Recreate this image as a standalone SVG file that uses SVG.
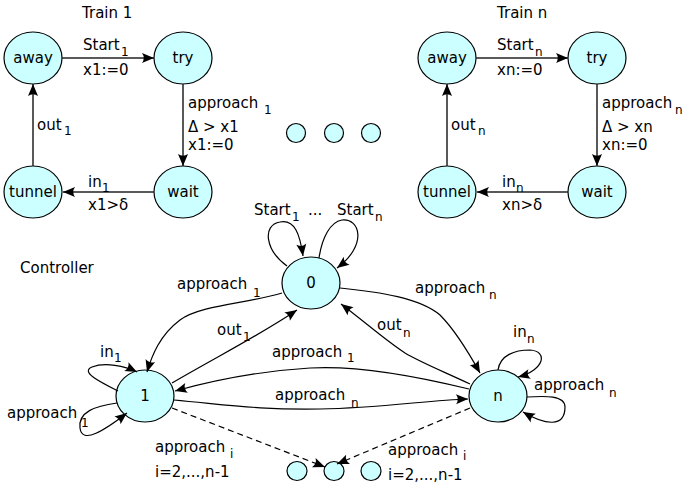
<svg xmlns="http://www.w3.org/2000/svg" width="683" height="488" viewBox="0 0 683 488">
<style>
text{font-family:"DejaVu Sans","Liberation Sans",sans-serif;font-size:15px;fill:#000}
.sub{font-size:12px}
.c{text-anchor:middle}
.node{fill:#ccffff;stroke:#000;stroke-width:1.2}
.e{fill:none;stroke:#222;stroke-width:1.5;marker-end:url(#ah)}
.k{fill:none;stroke:#000;stroke-width:1.2;marker-end:url(#ah)}
.d{stroke-dasharray:6,4}
</style>
<defs>
<marker id="ah" markerWidth="14" markerHeight="12" refX="12" refY="5" orient="auto" markerUnits="userSpaceOnUse" viewBox="0 0 14 12" overflow="visible">
<path d="M12,5 L0,0 Q3.5,5 0,10 Z" fill="#000"/>
</marker>
</defs>

<!-- Train 1 -->
<text x="82" y="18">Train 1</text>
<g id="t1-away"><ellipse class="node" cx="33" cy="58" rx="29" ry="26"/><text class="c" x="33" y="63">away</text></g>
<g id="t1-try"><ellipse class="node" cx="183" cy="58" rx="29" ry="26"/><text class="c" x="183" y="63">try</text></g>
<g id="t1-wait"><ellipse class="node" cx="183" cy="192" rx="29" ry="26"/><text class="c" x="183" y="197">wait</text></g>
<g id="t1-tunnel"><ellipse class="node" cx="33" cy="192" rx="29" ry="26"/><text class="c" x="33" y="197">tunnel</text></g>

<!-- Train n -->
<text x="497" y="18">Train n</text>
<g id="tn-away"><ellipse class="node" cx="447" cy="58" rx="29" ry="26"/><text class="c" x="447" y="63">away</text></g>
<g id="tn-try"><ellipse class="node" cx="597" cy="58" rx="29" ry="26"/><text class="c" x="597" y="63">try</text></g>
<g id="tn-wait"><ellipse class="node" cx="597" cy="192" rx="29" ry="26"/><text class="c" x="597" y="197">wait</text></g>
<g id="tn-tunnel"><ellipse class="node" cx="447" cy="192" rx="29" ry="26"/><text class="c" x="447" y="197">tunnel</text></g>

<!-- dots -->
<g id="dots-top">
<circle class="node" cx="296" cy="133" r="9.5"/>
<circle class="node" cx="334" cy="133" r="9.5"/>
<circle class="node" cx="371" cy="133" r="9.5"/>
</g>

<!-- Controller -->
<text x="20" y="273">Controller</text>
<g id="c0"><ellipse class="node" cx="311" cy="283" rx="29" ry="26"/><text class="c" x="311" y="288">0</text></g>
<g id="c1"><ellipse class="node" cx="145" cy="396" rx="29" ry="26"/><text class="c" x="145" y="401">1</text></g>
<g id="cn"><ellipse class="node" cx="498" cy="396" rx="29" ry="26"/><text class="c" x="498" y="401">n</text></g>
<g id="dots-bottom">
<ellipse class="node" cx="297" cy="471" rx="10" ry="9.5"/>
<ellipse class="node" cx="334" cy="471" rx="10" ry="9.5"/>
<ellipse class="node" cx="371" cy="471" rx="10" ry="9.5"/>
</g>

<g id="connectors">
<!-- train 1 -->
<path class="e" d="M62,58 L154,58"/>
<path class="e" d="M183,84 L183,166"/>
<path class="e" d="M154,192 L63,192"/>
<path class="e" d="M33,166 L33,84"/>
<!-- train n -->
<path class="e" d="M476,58 L568,58"/>
<path class="e" d="M597,84 L597,166"/>
<path class="e" d="M568,192 L477,192"/>
<path class="e" d="M447,166 L447,84"/>
<!-- controller -->
<path class="k" d="M287,266 C265,250 262,225 280,222 C295,219 300,235 303,256"/>
<path class="k" d="M319,258 C322,238 330,222 342,220 C360,218 368,245 337,268"/>
<path class="k" d="M282,293 C250,303 200,305 180,320 C160,335 152,355 147,372"/>
<path class="k" d="M172,383 C220,355 260,335 297,310"/>
<path class="k" d="M469,389 C420,377 360,365 310,368 C260,371 215,380 175,391"/>
<path class="k" d="M174,400 C230,405 260,410 320,409 C380,408 430,400 468,399"/>
<path class="k" d="M340,288 C380,292 420,298 440,315 C455,330 470,355 480,373"/>
<path class="k" d="M470,384 C440,370 420,362 405,353 C385,340 365,322 341,304"/>
<path class="k" d="M498,370 C500,355 515,350 530,350 C548,351 545,370 518,377"/>
<path class="k" d="M527,397 C545,396 565,395 565,407 C565,428 545,425 523,412"/>
<path class="k" d="M118,391 C100,382 80,372 92,367 C105,362 125,366 137,372"/>
<path class="k" d="M117,403 C95,406 78,412 80,428 C82,445 105,430 127,413"/>
<path class="k d" d="M172,408 L325,467"/>
<path class="k d" d="M470,408 L337,464"/>
</g>

<!-- train 1 labels -->
<text x="83" y="50">Start</text><text class="sub" x="121" y="56">1</text>
<text x="83" y="75">x1:=0</text>
<text x="188" y="108">approach</text><text class="sub" x="264" y="114">1</text>
<text x="188" y="132">Δ &gt; x1</text>
<text x="188" y="150">x1:=0</text>
<text x="88" y="187">in</text><text class="sub" x="102" y="192">1</text>
<text x="88" y="210">x1&gt;δ</text>
<text x="37" y="130">out</text><text class="sub" x="64" y="135">1</text>

<!-- train n labels -->
<text x="497" y="50">Start</text><text class="sub" x="535" y="56">n</text>
<text x="497" y="75">xn:=0</text>
<text x="602" y="108">approach</text><text class="sub" x="675" y="114">n</text>
<text x="602" y="132">Δ &gt; xn</text>
<text x="602" y="150">xn:=0</text>
<text x="502" y="187">in</text><text class="sub" x="516" y="192">n</text>
<text x="502" y="210">xn&gt;δ</text>
<text x="451" y="130">out</text><text class="sub" x="478" y="135">n</text>

<!-- controller labels -->
<text x="254" y="215">Start</text><text class="sub" x="292" y="221">1</text>
<text x="308" y="215">...</text>
<text x="337" y="215">Start</text><text class="sub" x="375" y="221">n</text>
<text x="177" y="289">approach</text><text class="sub" x="253" y="297">1</text>
<text x="217" y="335">out</text><text class="sub" x="243" y="341">1</text>
<text x="100" y="357">in</text><text class="sub" x="114" y="362">1</text>
<text x="7" y="418">approach</text><text class="sub" x="81" y="427">1</text>
<text x="272" y="357">approach</text><text class="sub" x="347" y="362">1</text>
<text x="275" y="400">approach</text><text class="sub" x="351" y="407">n</text>
<text x="415" y="293">approach</text><text class="sub" x="489" y="299">n</text>
<text x="377" y="330">out</text><text class="sub" x="403" y="337">n</text>
<text x="513" y="337">in</text><text class="sub" x="527" y="343">n</text>
<text x="534" y="390">approach</text><text class="sub" x="609" y="397">n</text>
<text x="155" y="452">approach</text><text class="sub" x="230" y="458">i</text>
<text x="155" y="477">i=2,...,n-1</text>
<text x="388" y="455">approach</text><text class="sub" x="463" y="460">i</text>
<text x="388" y="480">i=2,...,n-1</text>
</svg>
